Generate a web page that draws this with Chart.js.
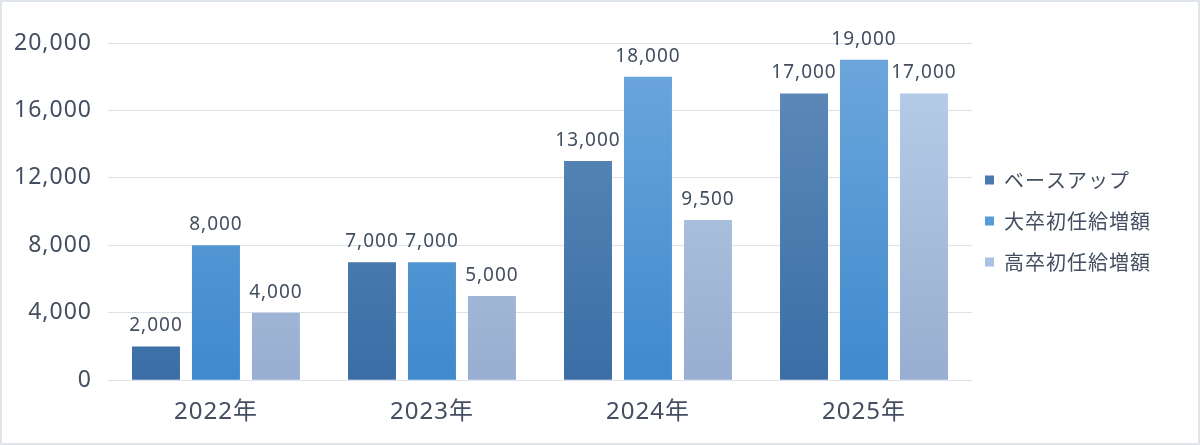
<!DOCTYPE html>
<html>
<head>
<meta charset="utf-8">
<script src="https://cdn.jsdelivr.net/npm/chart.js@4"></script>
<style>
  html, body { margin: 0; padding: 0; background: #fff; }
  #wrap { width: 1200px; height: 445px; box-sizing: border-box; border: 2px solid #dfe4ea; background: #fff; }
</style>
</head>
<body>
<div id="wrap"><canvas id="myChart" width="1196" height="441"></canvas></div>
<script>
const years = ['2022年', '2023年', '2024年', '2025年'];
const baseUp = [2000, 7000, 13000, 17000];
const univStart = [8000, 7000, 18000, 19000];
const highStart = [4000, 5000, 9500, 17000];
const yTicks = [0, 4000, 8000, 12000, 16000, 20000];

const FONT = '"Noto Sans", "Noto Sans CJK JP", sans-serif';
const TEXT = '#434e60';

// vertical gradient per series
function grad(top, bottom) {
    return function (context) {
        const chart = context.chart;
        const area = chart.chartArea;
        if (!area) return bottom;
        const g = chart.ctx.createLinearGradient(0, area.top, 0, area.bottom);
        g.addColorStop(0, top);
        g.addColorStop(1, bottom);
        return g;
    };
}

// value labels above bars
const barLabels = {
    id: 'barLabels',
    afterDatasetsDraw(chart) {
        const ctx = chart.ctx;
        ctx.save();
        ctx.font = '19px ' + FONT;
        ctx.fillStyle = TEXT;
        ctx.textAlign = 'center';
        ctx.textBaseline = 'bottom';
        chart.data.datasets.forEach((ds, i) => {
            chart.getDatasetMeta(i).data.forEach((bar, j) => {
                ctx.fillText(ds.data[j].toLocaleString('en-US'), bar.x, bar.y - 11);
            });
        });
        ctx.restore();
    }
};

// wider letters + nudge the legend closer to the plot
const tweaks = {
    id: 'tweaks',
    afterLayout(chart) {
        const lg = chart.legend;
        lg.left -= 8;
        lg.right -= 8;
        lg.top -= 19;
        lg.bottom -= 19;
    },
    beforeDraw(chart) {
        chart.ctx.letterSpacing = '1px';
    }
};

const data = {
    labels: years,
    datasets: [{
        label: 'ベースアップ',
        data: baseUp,
        backgroundColor: grad('#618cba', '#3a6ea6'),
    }, {
        label: '大卒初任給増額',
        data: univStart,
        backgroundColor: grad('#6ea7dd', '#3f8acd'),
    }, {
        label: '高卒初任給増額',
        data: highStart,
        backgroundColor: grad('#b9d0eb', '#98aed0'),
    }]
};

const config = {
    type: 'bar',
    data: data,
    plugins: [barLabels, tweaks],
    options: {
        responsive: false,
        animation: false,
        categoryPercentage: 0.833,
        barPercentage: 0.8,
        layout: { padding: { top: 41, left: 2, right: 36, bottom: 6 } },
        plugins: {
            legend: {
                position: 'right',
                labels: {
                    boxWidth: 9,
                    boxHeight: 9,
                    padding: 21,
                    color: TEXT,
                    font: { family: '"Noto Sans CJK JP", sans-serif', size: 20 },
                    generateLabels(chart) {
                        const cols = ['#4a7bb0', '#569ad8', '#a9c1e2'];
                        return chart.data.datasets.map((ds, i) => ({
                            text: ds.label,
                            fillStyle: cols[i],
                            strokeStyle: cols[i],
                            lineWidth: 0,
                            fontColor: TEXT,
                            datasetIndex: i
                        }));
                    }
                }
            },
            tooltip: { enabled: false }
        },
        scales: {
            x: {
                grid: { display: false },
                border: { display: false },
                ticks: { color: TEXT, font: { family: FONT, size: 24 }, padding: 10 }
            },
            y: {
                min: 0,
                max: 20000,
                afterBuildTicks(axis) {
                    axis.ticks = yTicks.map(v => ({ value: v }));
                },
                grid: { color: '#dde2ea', lineWidth: 1, drawTicks: false },
                border: { display: false },
                ticks: {
                    color: TEXT,
                    padding: 16,
                    font: { family: FONT, size: 23 },
                    callback: v => v.toLocaleString('en-US')
                }
            }
        }
    }
};

var ctx = document.getElementById('myChart').getContext('2d');
var myChart = new Chart(ctx, config);
</script>
</body>
</html>
